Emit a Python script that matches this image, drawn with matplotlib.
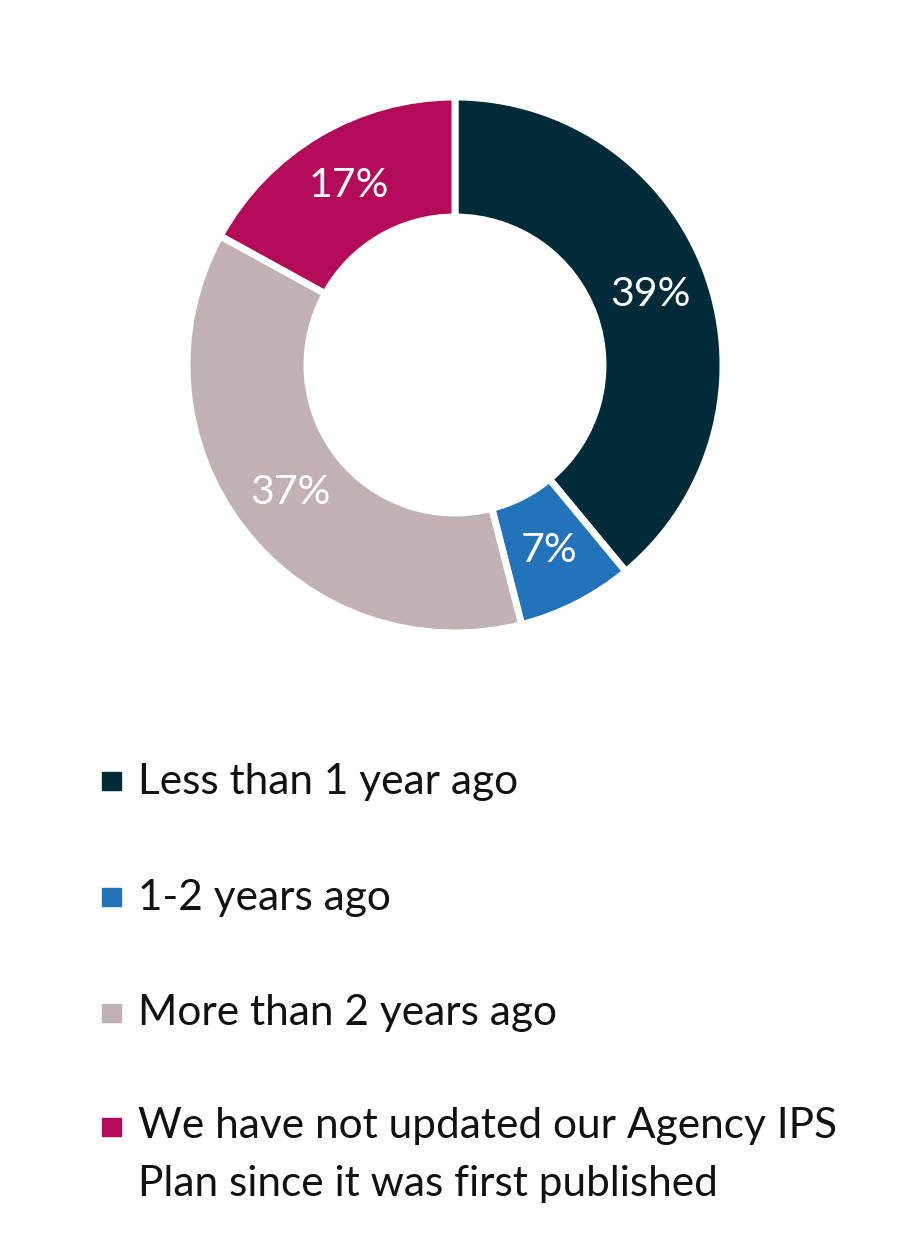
import matplotlib
matplotlib.use("Agg")
import matplotlib.pyplot as plt
from matplotlib.patches import Rectangle
import numpy as np

categories = ["Less than 1 year ago", "1-2 years ago", "More than 2 years ago",
              "We have not updated our Agency IPS\nPlan since it was first published"]
values = [39, 7, 37, 17]
labels = ["39%", "7%", "37%", "17%"]
colors = ["#022B3A", "#2273BA", "#C2B1B4", "#B30B5A"]

W, H = 909, 1260
fig = plt.figure(figsize=(W / 100, H / 100), dpi=100)
FONT = "Lato"

cx, cy, R = 455, 365, 268
ax = fig.add_axes([(cx - R) / W, (H - cy - R) / H, 2 * R / W, 2 * R / H])
inner = 148 / 268
wedges, _ = ax.pie(values, colors=colors, startangle=90, counterclock=False, radius=1,
                   wedgeprops=dict(width=1 - inner, edgecolor="white", linewidth=5))
cum = np.cumsum([0] + values[:-1])
rm = (1 + inner) / 2
for v, c0, lab in zip(values, cum, labels):
    ang = np.deg2rad(90 - (c0 + v / 2) / sum(values) * 360)
    ax.text(rm * np.cos(ang), rm * np.sin(ang), lab, color="white", ha="center",
            va="center", fontsize=29.5, family=FONT)
ax.set_xlim(-1, 1)
ax.set_ylim(-1, 1)
ax.set_aspect("equal")
ax.axis("off")

# legend
fs = 30.5
baselines = [794, 910, 1025, 1138]
sq_tops = [772, 888, 1004, 1118]
for cat, col, b, t in zip(categories, colors, baselines, sq_tops):
    fig.patches.append(Rectangle((102 / W, (H - t - 18) / H), 19 / W, 18 / H,
                                 transform=fig.transFigure, color=col))
    for i, line in enumerate(cat.split("\n")):
        fig.text(138 / W, (H - b - i * 58) / H, line, fontsize=fs, family=FONT,
                 va="baseline", ha="left", color="#111111")

fig.savefig("out.png", dpi=100)
